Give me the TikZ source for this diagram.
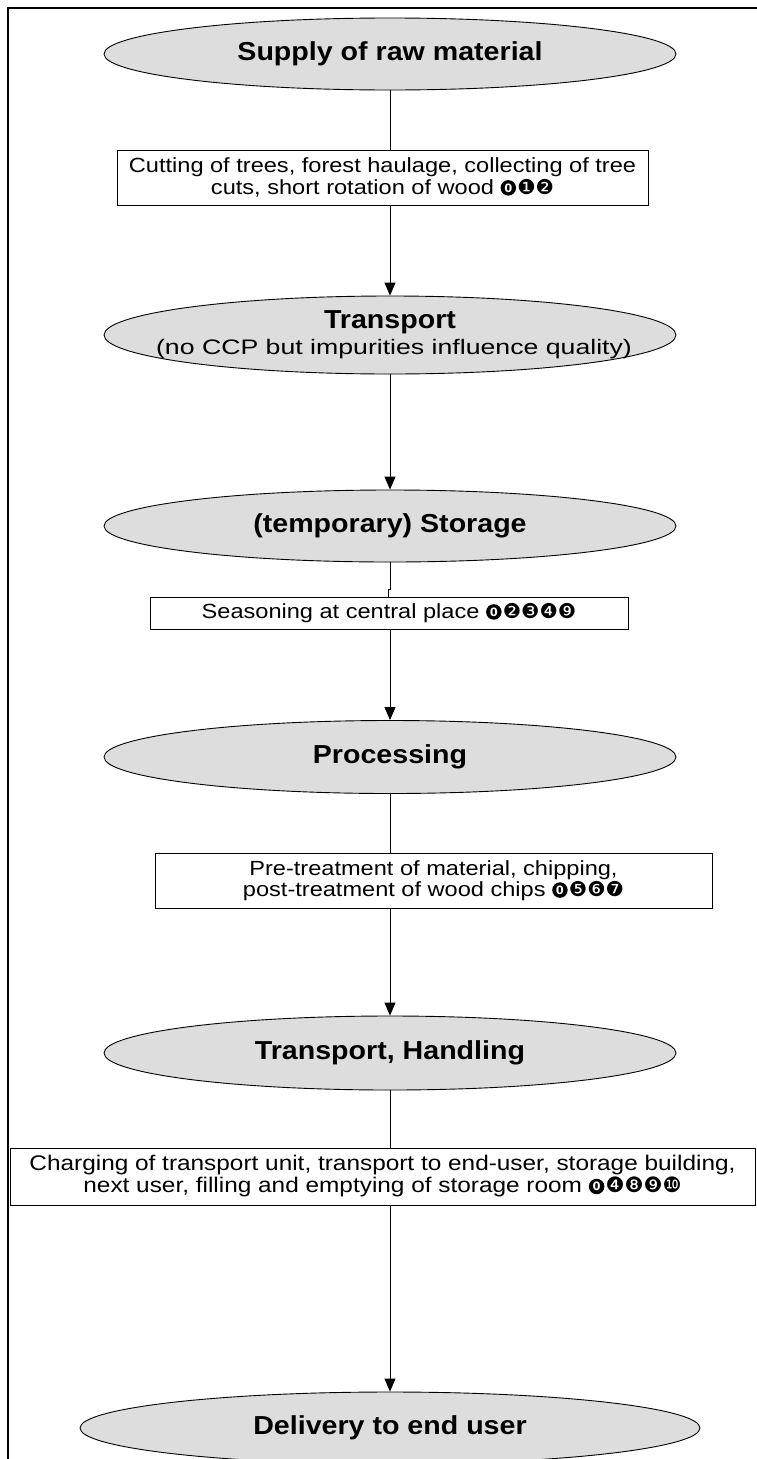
\documentclass[tikz,border=0pt]{standalone}
\usepackage{fontspec}
\setmainfont{Liberation Sans}[FakeStretch=1.15]
\newfontfamily\titlefont{Liberation Sans}[FakeStretch=1.1]
\newfontfamily\widefont{Liberation Sans}[FakeStretch=1.27]
\newfontfamily\dingfont{DejaVu Sans}
\usetikzlibrary{shapes.geometric,arrows.meta}
\definecolor{stagefill}{HTML}{DDDDDD}
\newsavebox\zerobox
\newcommand{\ccp}[1]{{\dingfont\usebox\zerobox\hspace{1.2pt}#1}}
\tikzset{
  stage/.style={ellipse, draw=black, line width=0.9pt, fill=stagefill,
    minimum width=572pt, minimum height=72pt, inner sep=0pt, align=center,
    font=\titlefont\fontsize{26}{30}\selectfont\bfseries},
  activity/.style={rectangle, draw=black, line width=0.9pt, fill=white,
    inner sep=0pt, align=center, font=\fontsize{20.5}{21.5}\selectfont},
  flow/.style={line width=0.9pt, -{Triangle[length=13pt,width=11pt]}},
  link/.style={line width=0.9pt},
}
\begin{document}
% negative circled zero: a disc with a white digit
\sbox\zerobox{\begin{pgfpicture}
  \pgfpathcircle{\pgfpoint{7.75pt}{6.5pt}}{7.75pt}
  \pgfusepath{fill}
  \pgftext[at=\pgfpoint{7.75pt}{6.5pt}]{\color{white}\dingfont\bfseries\fontsize{11.5}{12}\selectfont 0}
  \pgfsetbaseline{0pt}
\end{pgfpicture}}
\begin{tikzpicture}[x=1pt,y=-1pt]
\useasboundingbox (0,0) rectangle (757,1459);
% outer frame (top and left edge)
\draw[line width=1.6pt] (8,1470) -- (8,8) -- (770,8);

% stages
\node[stage] (e1) at (390,54) {Supply of raw material};
\node[stage, minimum height=78pt] (e2) at (390,335)
  {Transport\\[-4pt]\makebox[0pt]{\hspace*{8pt}\widefont\mdseries\fontsize{21}{22}\selectfont (no CCP but impurities influence quality)}};
\node[stage] (e3) at (390,526) {(temporary) Storage};
\node[stage, minimum height=73pt] (e4) at (390,757) {Processing};
\node[stage, minimum height=74pt] (e5) at (390,1053) {Transport, Handling};
\node[stage, minimum width=620pt] (e6) at (390,1428) {Delivery to end user};

% activities
\node[activity, minimum width=531pt, minimum height=55pt] (b1) at (382.5,177.5)
  {Cutting of trees, forest haulage, collecting of tree\\cuts, short rotation of wood \ccp{❶❷}};
\node[activity, minimum width=478pt, minimum height=32pt] (b2) at (389,613)
  {Seasoning at central place \ccp{❷❸❹❾}};
\node[activity, minimum width=557pt, minimum height=55pt] (b3) at (433.5,880.5)
  {Pre-treatment of material, chipping,\\post-treatment of wood chips \ccp{❺❻❼}};
\node[activity, minimum width=745pt, minimum height=57pt,
      font=\fontsize{21.2}{22}\selectfont] (b4) at (382.5,1176.5)
  {Charging of transport unit, transport to end-user, storage building,\\next user, filling and emptying of storage room \ccp{❹❽❾❿}};

% connectors
\coordinate (k1) at ([yshift=-27pt]e3.south);
\coordinate (k2) at ([xshift=-1.5pt]k1);
\draw[link] (e1.south) -- (e1.south |- b1.north);
\draw[flow] (e1.south |- b1.south) -- (e2.north);
\draw[flow] (e2.south) -- (e3.north);
\draw[link] (e3.south) -- (k1) -- (k2) -- (k2 |- b2.north);
\draw[flow] (e4.north |- b2.south) -- (e4.north);
\draw[link] (e4.south) -- (e4.south |- b3.north);
\draw[flow] (e4.south |- b3.south) -- (e5.north);
\draw[link] (e5.south) -- (e5.south |- b4.north);
\draw[flow] (e5.south |- b4.south) -- (e6.north);
\end{tikzpicture}
\end{document}
